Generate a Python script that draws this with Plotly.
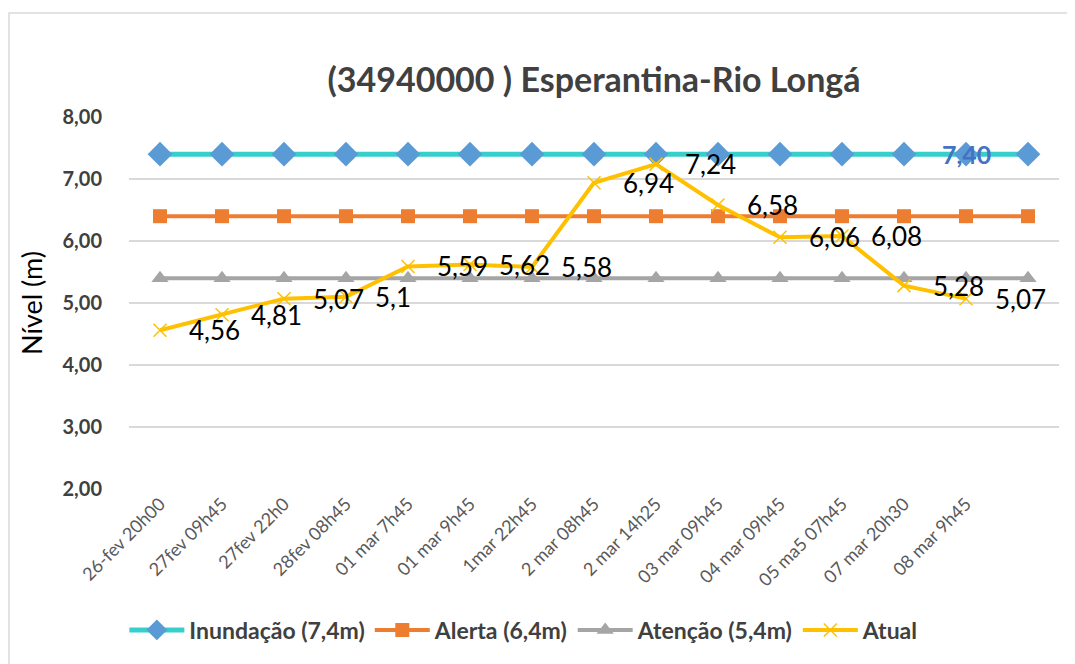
import plotly.graph_objects as go

# Dados
datas = ['26-fev 20h00', '27fev 09h45', '27fev 22h0', '28fev 08h45', '01 mar 7h45',
         '01 mar 9h45', '1mar 22h45', '2 mar 08h45', '2 mar 14h25', '03 mar 09h45',
         '04 mar 09h45', '05 ma5 07h45', '07 mar 20h30', '08 mar 9h45', '']
inundacao = [7.4] * 15
alerta = [6.4] * 15
atencao = [5.4] * 15
atual = [4.56, 4.81, 5.07, 5.1, 5.59, 5.62, 5.58, 6.94, 7.24, 6.58, 6.06, 6.08, 5.28, 5.07]

pos = list(range(len(datas)))
fonte = 'Lato'

fig = go.Figure()

fig.add_trace(go.Scatter(
    x=pos, y=inundacao, name='Inundação (7,4m)', mode='lines+markers',
    line=dict(color='#36CFCB', width=5),
    marker=dict(symbol='diamond', size=19, color='#5B9BD5')
))
fig.add_trace(go.Scatter(
    x=pos, y=alerta, name='Alerta (6,4m)', mode='lines+markers',
    line=dict(color='#ED7D31', width=4),
    marker=dict(symbol='square', size=14, color='#ED7D31')
))
fig.add_trace(go.Scatter(
    x=pos, y=atencao, name='Atenção (5,4m)', mode='lines+markers',
    line=dict(color='#A5A5A5', width=4),
    marker=dict(symbol='triangle-up', size=15, color='#A5A5A5')
))
fig.add_trace(go.Scatter(
    x=pos[:len(atual)], y=atual, name='Atual', mode='lines+markers',
    line=dict(color='#FFC000', width=4),
    marker=dict(symbol='x-thin', size=13, line=dict(color='#FFC000', width=1.5))
))

# rótulos dos valores (à direita do ponto, como no Excel)
for i, v in enumerate(atual):
    fig.add_annotation(
        x=i, y=v, text=str(v).replace('.', ','), showarrow=False,
        xanchor='left', yanchor='middle', xshift=27,
        font=dict(family=fonte, size=26, color='#000000')
    )

# rótulo do nível de inundação
fig.add_annotation(
    x=13, y=inundacao[13], text='<b>7,40</b>', showarrow=False,
    font=dict(family=fonte, size=25, color='#4472C4')
)

# borda do gráfico
fig.add_shape(
    type='rect', xref='paper', yref='paper',
    x0=-0.129, x1=1.03, y0=-0.5, y1=1.2796,
    line=dict(color='#D9D9D9', width=1.5)
)

fig.update_layout(
    width=1067, height=656,
    margin=dict(l=121, r=16, t=109, b=175),
    paper_bgcolor='white', plot_bgcolor='white',
    separators=',.',
    title=dict(
        text='(34940000 ) Esperantina-Rio Longá',
        x=0.5, xanchor='center', xref='paper', y=0.89, yanchor='middle',
        font=dict(family=fonte, size=34, color='#404040', weight='bold')
    ),
    font=dict(family=fonte, color='#595959'),
    xaxis=dict(
        range=[-0.5, 14.5], tickvals=pos, ticktext=datas, tickangle=-45,
        showgrid=False, zeroline=False, showline=False,
        tickfont=dict(family=fonte, size=18, color='#595959')
    ),
    yaxis=dict(
        range=[2, 8], dtick=1, tickformat='.2f',
        gridcolor='#D9D9D9', gridwidth=1.5, zeroline=False, showline=False,
        tickfont=dict(family=fonte, size=20, color='#404040', weight='bold'),
        ticklabelstandoff=26,
        title=dict(text='Nível (m)', font=dict(family=fonte, size=27, color='#000000'), standoff=12)
    ),
    legend=dict(
        orientation='h', x=-0.005, xanchor='left', y=-0.379, yanchor='middle',
        font=dict(family=fonte, size=23, color='#404040', weight='bold'),
        itemwidth=55
    ),
    showlegend=True
)

fig.write_html('out.html')
